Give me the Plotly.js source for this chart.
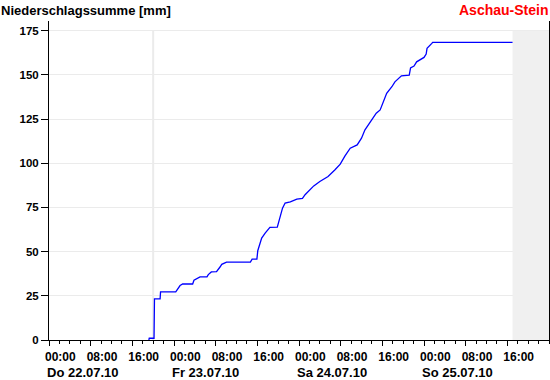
<!DOCTYPE html>
<html><head><meta charset="utf-8">
<script src="https://cdn.plot.ly/plotly-3.0.1.min.js"></script>
<style>html,body{margin:0;padding:0;background:#fff}#chart{width:550px;height:380px}</style>
</head><body><div id="chart"></div>
<script>
// Data
var times = [
  "2010-07-22 19:10","2010-07-22 19:15","2010-07-22 20:10","2010-07-22 20:15","2010-07-22 21:20","2010-07-22 21:25",
  "2010-07-23 00:20","2010-07-23 00:50","2010-07-23 01:10","2010-07-23 01:40","2010-07-23 03:35","2010-07-23 03:50",
  "2010-07-23 04:20","2010-07-23 05:00","2010-07-23 06:20","2010-07-23 06:35","2010-07-23 07:10","2010-07-23 08:10",
  "2010-07-23 08:50","2010-07-23 09:10","2010-07-23 10:05","2010-07-23 14:40","2010-07-23 15:00","2010-07-23 15:55",
  "2010-07-23 16:05","2010-07-23 16:25","2010-07-23 16:50","2010-07-23 17:30","2010-07-23 18:05","2010-07-23 18:25",
  "2010-07-23 19:50","2010-07-23 20:10","2010-07-23 20:50","2010-07-23 21:20","2010-07-23 22:20","2010-07-23 23:35",
  "2010-07-24 00:40","2010-07-24 01:10","2010-07-24 01:50","2010-07-24 02:50","2010-07-24 04:00","2010-07-24 05:35",
  "2010-07-24 06:55","2010-07-24 07:55","2010-07-24 08:50","2010-07-24 09:50","2010-07-24 11:10","2010-07-24 12:00",
  "2010-07-24 12:40","2010-07-24 14:00","2010-07-24 14:50","2010-07-24 15:35","2010-07-24 16:10","2010-07-24 16:50",
  "2010-07-24 17:50","2010-07-24 18:25","2010-07-24 19:40","2010-07-24 21:10","2010-07-24 21:25","2010-07-24 22:05",
  "2010-07-24 22:35","2010-07-24 23:35","2010-07-25 00:00","2010-07-25 00:25","2010-07-25 00:35","2010-07-25 01:30",
  "2010-07-25 01:40","2010-07-25 17:00"
];
var precipSum = [
  0, 1, 1, 23.3, 23.3, 27.2,
  27.2, 29.5, 30.8, 31.7, 31.7, 33.8,
  34.5, 35.7, 35.7, 37, 38.5, 38.7,
  41.3, 42.8, 44.1, 44.1, 45.8, 45.8,
  50.5, 53.9, 57.7, 60.5, 62.4, 63.7,
  63.9, 68, 74.6, 77.5, 78.2, 79.7,
  80.1, 82.2, 84.0, 87.2, 89.7, 92.5,
  96.3, 99.5, 104.2, 108.5, 110.4, 114.2,
  118.9, 124.9, 128.3, 130.2, 134.8, 139.6,
  143.3, 146.1, 149.5, 149.9, 154.0, 155,
  157.4, 159.3, 159.9, 161.8, 165, 167.8,
  168.4, 168.4
];
var tickTimes = ["2010-07-22 00:00","2010-07-22 08:00","2010-07-22 16:00","2010-07-23 00:00","2010-07-23 08:00","2010-07-23 16:00",
  "2010-07-24 00:00","2010-07-24 08:00","2010-07-24 16:00","2010-07-25 00:00","2010-07-25 08:00","2010-07-25 16:00"];
var tickLabels = ["00:00","08:00","16:00","00:00","08:00","16:00","00:00","08:00","16:00","00:00","08:00","16:00"];
var dayTimes = ["2010-07-22 00:00","2010-07-23 00:00","2010-07-24 00:00","2010-07-25 00:00"];
var dayLabels = ["Do 22.07.10","Fr 23.07.10","Sa 24.07.10","So 25.07.10"];
var yTicks = [0,25,50,75,100,125,150,175];
var xStart = "2010-07-22 00:00", xEnd = "2010-07-26 00:00";
var nowTime = "2010-07-25 17:00";
var markTime = "2010-07-22 20:00";
var stationName = "Aschau-Stein";
var titleText = "Niederschlagssumme [mm]";

var FONT = "Liberation Sans, Arial, Helvetica, sans-serif";

var trace = {
  x: times, y: precipSum, type: "scatter", mode: "lines",
  line: {color: "#0000ff", width: 1.3}, hoverinfo: "x+y"
};

var annotations = dayTimes.map(function(t, i){
  return {x: t, xref: "x", y: -42/319, yref: "paper", text: dayLabels[i], showarrow: false,
    xanchor: "left", yanchor: "bottom", xshift: -4,
    font: {family: FONT, size: 13, color: "#000", weight: "bold"}};
});
annotations.push({x: 1, xref: "paper", y: 1 + 21/319, yref: "paper", text: stationName, showarrow: false,
  xanchor: "right", yanchor: "top", xshift: 1,
  font: {family: FONT, size: 14, color: "#ff0000", weight: "bold"}});
annotations.push({x: 0, xref: "paper", xshift: -50, y: 1 + 20/319, yref: "paper", text: titleText, showarrow: false,
  xanchor: "left", yanchor: "top",
  font: {family: FONT, size: 13, color: "#000", weight: "bold"}});

var layout = {
  width: 550, height: 380,
  margin: {l: 49, r: 1, t: 21, b: 40, pad: 0},
  paper_bgcolor: "#fff", plot_bgcolor: "#fff",
  showlegend: false,
  xaxis: {
    type: "date", range: [xStart, xEnd], fixedrange: true,
    showgrid: false, zeroline: false,
    showline: true, linecolor: "#000", linewidth: 1,
    ticks: "outside", ticklen: 5, tickwidth: 1, tickcolor: "#000",
    tickmode: "array", tickvals: tickTimes, ticktext: tickLabels,
    ticklabelposition: "outside right", ticklabelshift: -5, ticklabelstandoff: 6,
    tickfont: {family: FONT, size: 12, color: "#000", weight: "bold"},
    minor: {ticks: "outside", ticklen: 3, tickcolor: "#000", dtick: 7200000, tick0: xStart, showgrid: false}
  },
  yaxis: {
    range: [0, 180.5], fixedrange: true,
    tickmode: "array", tickvals: yTicks,
    showgrid: true, gridcolor: "#ebebeb", gridwidth: 1, zeroline: false,
    showline: true, linecolor: "#000", linewidth: 1, mirror: true,
    ticks: "outside", ticklen: 7, tickcolor: "#000",
    tickfont: {family: FONT, size: 11.5, color: "#000", weight: "bold"}
  },
  shapes: [
    {type: "rect", xref: "x", yref: "y", x0: nowTime, x1: xEnd, y0: 0, y1: 175,
      fillcolor: "#f0f0f0", line: {width: 0}, layer: "between"},
    {type: "line", xref: "x", yref: "y", x0: markTime, x1: markTime, y0: 0, y1: 175,
      line: {color: "#ebebeb", width: 2}, layer: "between"}
  ],
  annotations: annotations
};

Plotly.newPlot("chart", [trace], layout, {displayModeBar: false, staticPlot: true});
</script></body></html>
